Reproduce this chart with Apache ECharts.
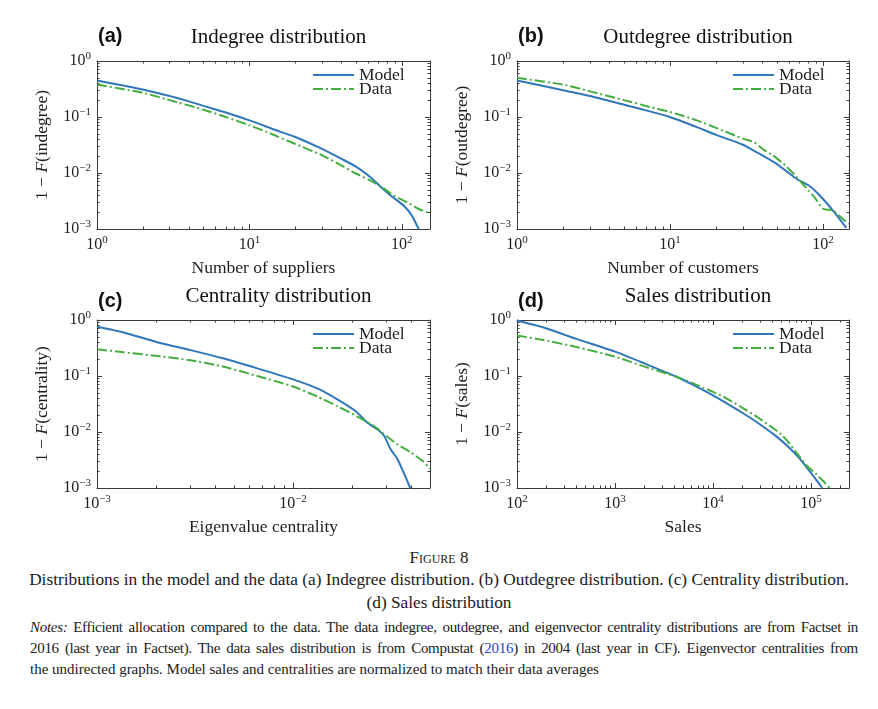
<!DOCTYPE html>
<html>
<head>
<meta charset="utf-8">
<title>Figure 8</title>
<script src="https://cdn.jsdelivr.net/npm/echarts@6/dist/echarts.min.js"></script>
<style>
  html, body { margin: 0; padding: 0; background: #fff; }
  #main { position: absolute; left: 0; top: 0; width: 878px; height: 545px; }
  .cap { position: absolute; font-family: 'Liberation Serif', serif; color: #1a1a1a; white-space: nowrap; line-height: 20px; }
  .mid { left: 0; width: 878px; text-align: center; }
  .note { left: 30px; width: 828px; font-size: 15px; text-align: justify; text-align-last: justify; letter-spacing: -0.3px; }
  .note.last { text-align-last: left; letter-spacing: 0; }
</style>
</head>
<body>
<div id="main"></div>
<div class="cap mid" style="top:548px;font-size:17px;font-variant:small-caps;">Figure 8</div>
<div class="cap mid" style="top:570px;font-size:17.3px;">Distributions in the model and the data (a) Indegree distribution. (b) Outdegree distribution. (c) Centrality distribution.</div>
<div class="cap mid" style="top:593px;font-size:17.3px;">(d) Sales distribution</div>
<div class="cap note" style="top:617px;"><i>Notes:</i> Efficient allocation compared to the data. The data indegree, outdegree, and eigenvector centrality distributions are from Factset in</div>
<div class="cap note" style="top:638px;">2016 (last year in Factset). The data sales distribution is from Compustat (<span style="color:#2f3fd0">2016</span>) in 2004 (last year in CF). Eigenvector centralities from</div>
<div class="cap note last" style="top:659px;">the undirected graphs. Model sales and centralities are normalized to match their data averages</div>
<script>
// (a) indegree
var indegModelX = [1, 2, 3, 4, 5, 7, 10, 15, 20, 30, 40, 50, 62, 72, 84, 103, 116, 129];
var indegModelY = [0.45, 0.31, 0.237, 0.19, 0.158, 0.12, 0.087, 0.058, 0.044, 0.027, 0.018, 0.013, 0.0085, 0.0058, 0.004, 0.0026, 0.00175, 0.001];
var indegDataX = [1, 2, 3, 5, 7, 10, 13, 20, 30, 40, 50, 65, 76, 88, 108, 128, 153];
var indegDataY = [0.38, 0.27, 0.2, 0.135, 0.1, 0.071, 0.054, 0.033, 0.0207, 0.0137, 0.0098, 0.0069, 0.0053, 0.004, 0.003, 0.0023, 0.0019];

// (b) outdegree
var outdegModelX = [1, 2, 3, 5, 7.4, 10, 15, 20, 30, 36.7, 49.5, 67, 82, 95, 116, 142];
var outdegModelY = [0.45, 0.3, 0.237, 0.166, 0.126, 0.1, 0.066, 0.048, 0.032, 0.0237, 0.0147, 0.0079, 0.0058, 0.004, 0.00215, 0.00105];
var outdegDataX = [1, 2, 3, 5, 7.4, 10, 15, 20, 30, 35.7, 40.5, 47, 55, 64, 72, 80, 88, 100, 116, 135, 148];
var outdegDataY = [0.5, 0.38, 0.287, 0.2, 0.151, 0.123, 0.087, 0.064, 0.041, 0.035, 0.0265, 0.0207, 0.0147, 0.0098, 0.0069, 0.0049, 0.0037, 0.0023, 0.00215, 0.0015, 0.00125];

// (c) eigenvalue centrality
var centModelX = [0.001, 0.00137, 0.00203, 0.003, 0.00444, 0.00657, 0.01, 0.0133, 0.0169, 0.0209, 0.024, 0.027, 0.0292, 0.0315, 0.0341, 0.0369, 0.0397];
var centModelY = [0.76, 0.6, 0.4, 0.29, 0.205, 0.137, 0.087, 0.06, 0.038, 0.0235, 0.0146, 0.0111, 0.0085, 0.0049, 0.0033, 0.0018, 0.00098];
var centDataX = [0.001, 0.00137, 0.00203, 0.003, 0.00444, 0.00657, 0.01, 0.0133, 0.0169, 0.0212, 0.0259, 0.0292, 0.0341, 0.04, 0.0466, 0.05];
var centDataY = [0.3, 0.265, 0.228, 0.191, 0.146, 0.1, 0.065, 0.043, 0.0288, 0.0191, 0.0128, 0.0091, 0.006, 0.0043, 0.0029, 0.0022];

// (d) sales
var salesModelX = [100, 184, 403, 1016, 1932, 4226, 6000, 10000, 13000, 20240, 28240, 44270, 61400, 75000, 90600, 110000, 130000];
var salesModelY = [0.98, 0.74, 0.46, 0.27, 0.172, 0.097, 0.0721, 0.0449, 0.0345, 0.0216, 0.0148, 0.00836, 0.00504, 0.00348, 0.00232, 0.00149, 0.001];
var salesDataX = [100, 184, 403, 1016, 1932, 4226, 6000, 7910, 10000, 13000, 20000, 28240, 40930, 48600, 60000, 71600, 90600, 114000, 133000, 155000];
var salesDataY = [0.53, 0.44, 0.33, 0.22, 0.15, 0.097, 0.076, 0.062, 0.052, 0.042, 0.027, 0.0185, 0.0118, 0.0094, 0.0063, 0.0042, 0.0025, 0.00174, 0.00133, 0.001];

// major tick positions
var degreeTicks = [1, 10, 100];
var centTicks = [0.001, 0.01];
var salesTicks = [100, 1000, 10000, 100000];
var probTicks = [0.001, 0.01, 0.1, 1];

var FONT = 'Liberation Serif';
var INK = '#3a3a3a';
var TXT = '#1e1e1e';
var BLUE = '#2f76bb';
var GREEN = '#44ad3f';

var chart = echarts.init(document.getElementById('main'));

function pairs(xs, ys) {
  return xs.map(function (x, i) { return [x, ys[i]]; });
}

// 2..9 times each decade, inside (min, max)
function minorTicks(min, max) {
  var out = [];
  for (var d = Math.floor(Math.log10(min)); d <= Math.ceil(Math.log10(max)); d++) {
    for (var k = 2; k <= 9; k++) {
      var v = k * Math.pow(10, d);
      if (v > min * 1.0001 && v < max * 0.9999) out.push(v);
    }
  }
  return out;
}

function powLabel(v) {
  var e = Math.round(Math.log10(v));
  return '{b|10}{s|' + (e < 0 ? '\u2212' + (-e) : e) + '}';
}

var labelRich = {
  b: { fontFamily: FONT, fontSize: 16, color: TXT, lineHeight: 20 },
  s: { fontFamily: FONT, fontSize: 11, color: TXT, verticalAlign: 'top', lineHeight: 11 }
};

var panels = [
  { tag: '(a)', title: 'Indegree distribution', xName: 'Number of suppliers', yVar: 'indegree',
    xMin: 1, xMax: 153, xTicks: degreeTicks, left: 97, top: 61, width: 333,
    model: pairs(indegModelX, indegModelY), data: pairs(indegDataX, indegDataY) },
  { tag: '(b)', title: 'Outdegree distribution', xName: 'Number of customers', yVar: 'outdegree',
    xMin: 1, xMax: 148, xTicks: degreeTicks, left: 517, top: 61, width: 332,
    model: pairs(outdegModelX, outdegModelY), data: pairs(outdegDataX, outdegDataY) },
  { tag: '(c)', title: 'Centrality distribution', xName: 'Eigenvalue centrality', yVar: 'centrality',
    xMin: 0.001, xMax: 0.05, xTicks: centTicks, left: 97, top: 320, width: 333,
    model: pairs(centModelX, centModelY), data: pairs(centDataX, centDataY) },
  { tag: '(d)', title: 'Sales distribution', xName: 'Sales', yVar: 'sales',
    xMin: 100, xMax: 244000, xTicks: salesTicks, left: 517, top: 320, width: 332,
    model: pairs(salesModelX, salesModelY), data: pairs(salesDataX, salesDataY) }
];
var plotH = 168;

var grids = [], xAxes = [], yAxes = [], series = [], legends = [], texts = [];

function frameAxis(gi, pos, min, max, ticks, len, showLine, showLabel) {
  return {
    type: 'log', logBase: 10, gridIndex: gi, position: pos, min: min, max: max,
    axisLine: { show: showLine, lineStyle: { color: INK, width: 1 } },
    axisTick: { show: true, inside: true, length: len, customValues: ticks, lineStyle: { color: INK, width: 1 } },
    axisLabel: { show: showLabel, customValues: ticks, formatter: powLabel, rich: labelRich, margin: 6 },
    minorTick: { show: false },
    splitLine: { show: false },
    silent: true
  };
}

panels.forEach(function (p, i) {
  grids.push({ left: p.left, top: p.top, width: p.width, height: plotH, outerBoundsMode: 'none' });

  var xMinor = minorTicks(p.xMin, p.xMax);
  var yMinor = minorTicks(0.001, 1);

  var xb = frameAxis(i, 'bottom', p.xMin, p.xMax, p.xTicks, 5, true, true);
  xb.name = p.xName;
  xb.nameLocation = 'middle';
  xb.nameGap = 30;
  xb.nameTextStyle = { fontFamily: FONT, fontSize: 17.5, color: TXT };
  xAxes.push(xb,
    frameAxis(i, 'bottom', p.xMin, p.xMax, xMinor, 2.5, false, false),
    frameAxis(i, 'top', p.xMin, p.xMax, p.xTicks, 5, true, false),
    frameAxis(i, 'top', p.xMin, p.xMax, xMinor, 2.5, false, false));

  var yl = frameAxis(i, 'left', 0.001, 1, probTicks, 5, true, true);
  yl.name = '1 \u2212 {i|F}(' + p.yVar + ')';
  yl.nameLocation = 'middle';
  yl.nameGap = 46;
  yl.nameTextStyle = { fontFamily: FONT, fontSize: 17.5, color: TXT,
    rich: { i: { fontFamily: FONT, fontSize: 17.5, fontStyle: 'italic', color: TXT } } };
  yAxes.push(yl,
    frameAxis(i, 'left', 0.001, 1, yMinor, 2.5, false, false),
    frameAxis(i, 'right', 0.001, 1, probTicks, 5, true, false),
    frameAxis(i, 'right', 0.001, 1, yMinor, 2.5, false, false));

  series.push({
    name: 'Model', type: 'line', xAxisIndex: i * 4, yAxisIndex: i * 4,
    data: p.model, symbol: 'none', smooth: 0.2, clip: true,
    lineStyle: { color: BLUE, width: 2 }, itemStyle: { color: BLUE }
  }, {
    name: 'Data', type: 'line', xAxisIndex: i * 4, yAxisIndex: i * 4,
    data: p.data, symbol: 'none', smooth: 0.2, clip: true,
    lineStyle: { color: GREEN, width: 2, type: [10, 3, 2, 3] }, itemStyle: { color: GREEN }
  });

  legends.push({
    left: p.left + 210, top: p.top, orient: 'vertical',
    itemWidth: 41, itemHeight: 14, itemGap: -4, selectedMode: false,
    itemStyle: { opacity: 0 },
    textStyle: { fontFamily: FONT, fontSize: 17.5, color: TXT },
    data: ['Model', 'Data']
  });

  var titleY = i < 2 ? 37 : 296;
  texts.push({
    type: 'text', x: p.left + p.width / 2 + 15, y: titleY,
    style: { text: p.title, font: '21px "Liberation Serif"', fill: '#111',
      align: 'center', verticalAlign: 'middle', textAlign: 'center', textVerticalAlign: 'middle' }
  }, {
    type: 'text', x: p.left + 1, y: i < 2 ? 36 : 301,
    style: { text: p.tag, font: 'bold 20px "Liberation Sans"', fill: '#111',
      align: 'left', verticalAlign: 'middle', textAlign: 'left', textVerticalAlign: 'middle' }
  });
});

chart.setOption({
  animation: false,
  backgroundColor: '#fff',
  grid: grids,
  xAxis: xAxes,
  yAxis: yAxes,
  legend: legends,
  series: series,
  graphic: { elements: texts }
});
</script>
</body>
</html>
